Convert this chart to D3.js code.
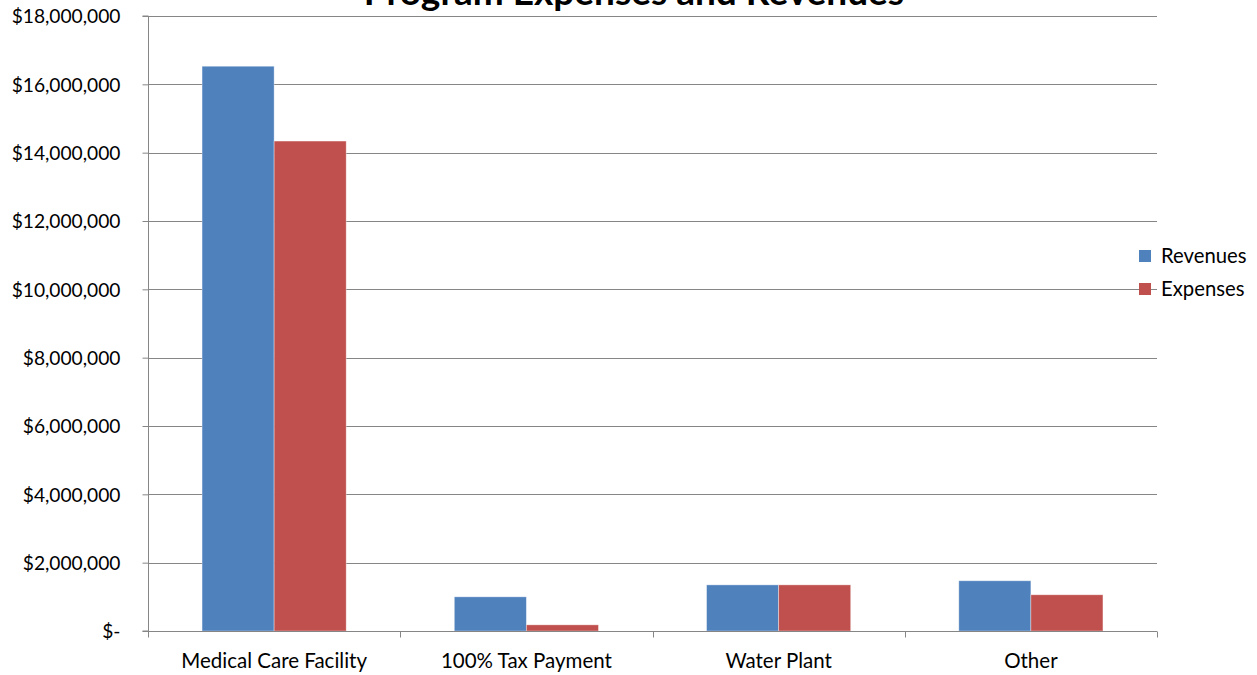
<!DOCTYPE html>
<html>
<head>
<meta charset="utf-8">
<script src="https://cdn.jsdelivr.net/npm/d3@7"></script>
<style>
  html, body { margin: 0; padding: 0; background: #fff; }
  svg { display: block; }
  text { font-family: Lato, "Liberation Sans", sans-serif; fill: #000; }
</style>
</head>
<body>
<svg id="chart" width="1257" height="675"></svg>
<script>
const title = "Program Expenses and Revenues";
const categories = ["Medical Care Facility", "100% Tax Payment", "Water Plant", "Other"];
const seriesNames = ["Revenues", "Expenses"];
const revenues = [16530000, 1000000, 1350000, 1470000];
const expenses = [14340000, 180000, 1350000, 1060000];
const yTicks = [0, 2000000, 4000000, 6000000, 8000000, 10000000, 12000000, 14000000, 16000000, 18000000];
const colors = ["#4F81BD", "#C0504D"];

const svg = d3.select("#chart");
const plot = { left: 148, right: 1157, top: 16, bottom: 631 };

const x0 = d3.scaleBand().domain(categories).range([plot.left, plot.right]).paddingInner(0).paddingOuter(0);
const bw = x0.bandwidth();
const x1 = d3.scaleBand().domain(seriesNames).range([bw * 0.2143, bw * 0.7857]).padding(0);
const y = d3.scaleLinear().domain([0, 18000000]).range([plot.bottom, plot.top]);

const fmt = v => v === 0 ? "$-" : "$" + d3.format(",")(v);
const gridColor = "#868686";

// gridlines
svg.append("g").selectAll("line").data(yTicks.filter(v => v > 0)).join("line")
  .attr("x1", plot.left).attr("x2", plot.right)
  .attr("y1", d => Math.round(y(d)) + 0.5).attr("y2", d => Math.round(y(d)) + 0.5)
  .attr("stroke", gridColor).attr("stroke-width", 1);

// bars
const data = categories.map((c, i) => ({ cat: c, vals: [revenues[i], expenses[i]] }));
const groups = svg.append("g").selectAll("g").data(data).join("g")
  .attr("transform", d => `translate(${x0(d.cat)},0)`);
groups.selectAll("rect").data(d => d.vals.map((v, j) => ({ key: seriesNames[j], v, j }))).join("rect")
  .attr("x", d => x1(d.key))
  .attr("width", x1.bandwidth())
  .attr("y", d => y(d.v))
  .attr("height", d => y(0) - y(d.v))
  .attr("fill", d => colors[d.j])
  .attr("stroke", "rgba(255,255,255,0.45)")
  .attr("stroke-width", 0.8);

// y axis
const yAxis = d3.axisLeft(y).tickValues(yTicks).tickFormat(fmt).tickSize(6).tickPadding(22);
const gy = svg.append("g").attr("transform", `translate(${plot.left + 0.5},0)`).call(yAxis);
gy.select(".domain").attr("stroke", gridColor).attr("d", `M-6,${plot.bottom}H0V${plot.top}H-6`);
gy.selectAll(".tick line").attr("stroke", gridColor);
gy.selectAll(".tick text").attr("font-size", 19.2).attr("font-family", "Lato, sans-serif").attr("dy", "0.35em");

// x axis
const xAxis = d3.axisBottom(x0).tickSize(0).tickPadding(0);
const gx = svg.append("g").attr("transform", `translate(0,${plot.bottom + 0.5})`).call(xAxis);
gx.select(".domain").attr("stroke", gridColor).attr("d", `M${plot.left},0H${plot.right}`);
gx.selectAll(".tick text").attr("font-size", 20.5).attr("font-family", "Lato, sans-serif").attr("y", 36).attr("dy", 0);
// category boundary tick marks
const bounds = categories.map(c => x0(c)).concat([plot.right]);
gx.append("g").selectAll("line").data(bounds).join("line")
  .attr("x1", d => Math.round(d) + 0.5).attr("x2", d => Math.round(d) + 0.5)
  .attr("y1", 0).attr("y2", 6).attr("stroke", gridColor);

// title
svg.append("text").attr("x", 634).attr("y", 5).attr("text-anchor", "middle")
  .attr("font-size", 37).attr("font-weight", "bold").text(title);

// legend
const leg = svg.append("g").attr("transform", "translate(1139,250)");
seriesNames.forEach((s, i) => {
  const g = leg.append("g").attr("transform", `translate(0,${i * 33})`);
  g.append("rect").attr("width", 12).attr("height", 12).attr("fill", colors[i]);
  g.append("text").attr("x", 22).attr("y", 12.5).attr("font-size", 20.3).text(s);
});
</script>
</body>
</html>
